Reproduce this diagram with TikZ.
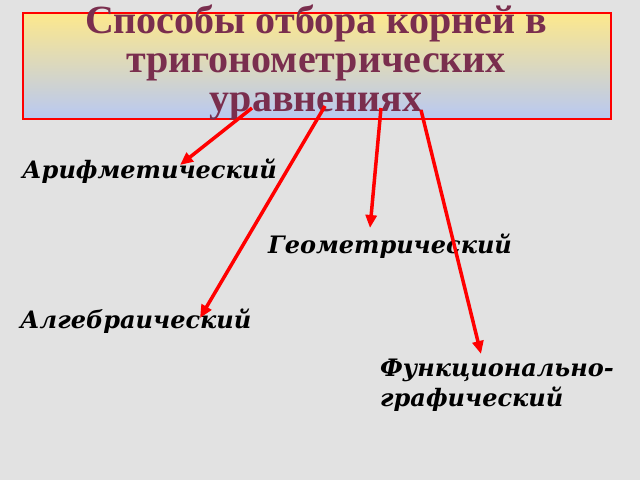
\documentclass[tikz,border=0pt]{standalone}
\usepackage{fontspec}
\setmainfont{Liberation Serif}
\newfontfamily\labfont{DejaVu Serif}
\usetikzlibrary{arrows.meta}
\definecolor{bg}{HTML}{E2E2E2}
\definecolor{ttl}{HTML}{7A2E4E}
\definecolor{gtop}{HTML}{FDE88C}
\definecolor{gbot}{HTML}{B8C8F2}
\tikzset{
  lab/.style={font=\labfont\bfseries\itshape\fontsize{24}{30}\selectfont, text=black, inner sep=0pt, anchor=base west, align=left},
  arr/.style={draw=red, line width=3.5pt, -{Triangle[length=13pt,width=11pt]}, shorten >=0pt}
}
\begin{document}
\begin{tikzpicture}[x=1pt,y=-1pt]
\useasboundingbox (0,0) rectangle (640,480);
\fill[bg] (0,0) rectangle (640,480);
\node[draw=red, line width=1.5pt, top color=gtop, bottom color=gbot, minimum width=588pt, minimum height=106pt, inner sep=0pt, anchor=north west] (box) at (22,12) {};
\node[text=ttl, font=\bfseries\fontsize{40}{39}\selectfont, align=center, inner sep=0pt, anchor=base] (title) at (316,111) {Способы отбора корней в\\тригонометрических\\уравнениях};
\node[lab] (ar) at (22,178) {Арифметический};
\node[lab] (ge) at (268,253) {Геометрический};
\node[lab] (al) at (20,328) {Алгебраический};
\node[lab] (fu) at (380,406) {Функционально-\\графический};
\coordinate (s1) at (252,108); \coordinate (e1) at (180,165);
\coordinate (s2) at (325,106); \coordinate (e2) at (200,318);
\coordinate (s3) at (381,108); \coordinate (e3) at (370,228);
\coordinate (s4) at (421,110); \coordinate (e4) at (481,354);
\draw[arr] (s1) -- (e1);
\draw[arr] (s2) -- (e2);
\draw[arr] (s3) -- (e3);
\draw[arr] (s4) -- (e4);
\end{tikzpicture}
\end{document}
